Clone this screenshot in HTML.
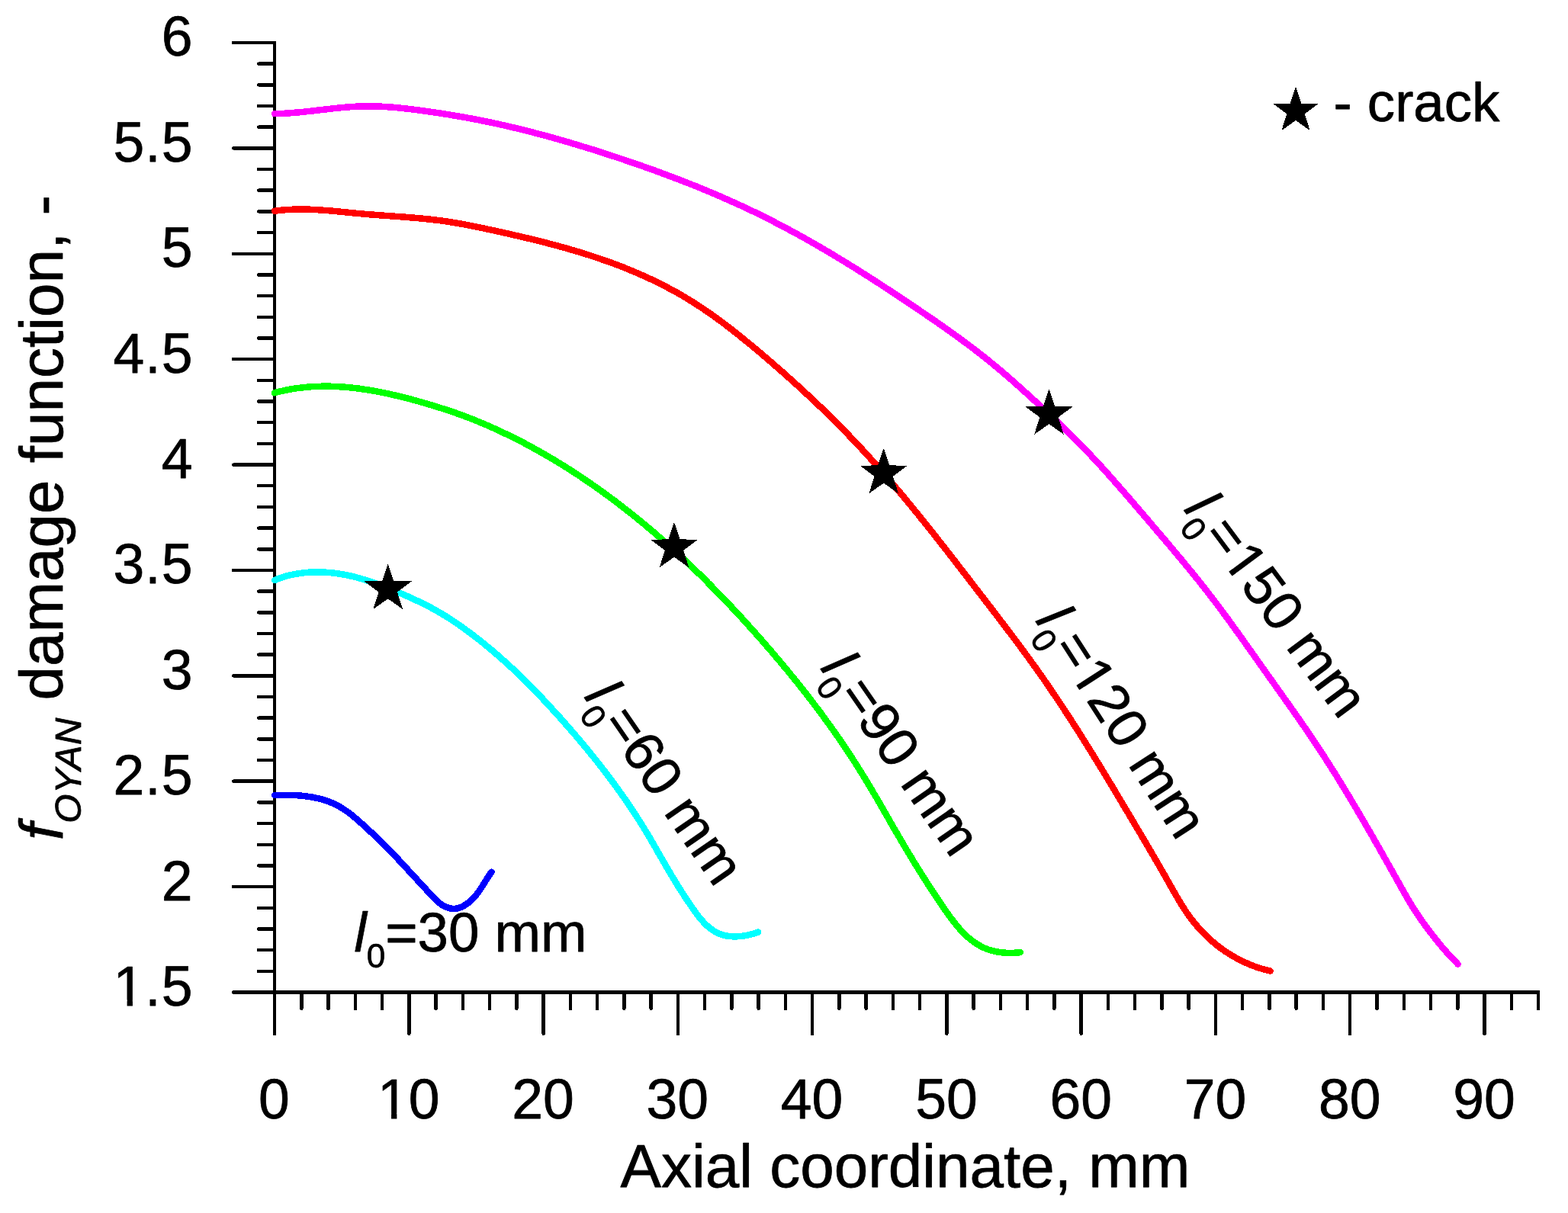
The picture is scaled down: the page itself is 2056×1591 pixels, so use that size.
<!DOCTYPE html>
<html lang="en"><head><meta charset="utf-8"><title>f_OYAN damage function vs axial coordinate</title>
<style>
html,body{margin:0;padding:0;background:#fff;overflow:hidden}
svg{display:block}
text{font-family:"Liberation Sans",Arial,Helvetica,sans-serif;fill:#000;stroke:#000;stroke-width:0.75px;stroke-linejoin:round}
.t{font-size:73.3px}
.l{font-size:72.6px}
.ax{font-size:80px}
.i{font-style:italic}
</style></head><body>
<svg xmlns="http://www.w3.org/2000/svg" width="2056" height="1591" viewBox="0 0 2056 1591">
<rect width="2056" height="1591" fill="#fff"/>
<g stroke="#000" stroke-width="4.5" stroke-linecap="round" fill="none" shape-rendering="crispEdges">
<path d="M360 56V1356"/>
<path d="M306 1301.5H2017V1323"/>
<path d="M306 56.0H360M339 83.7H360M339 111.4H360M339 139.0H360M339 166.7H360M306 194.4H360M339 222.1H360M339 249.7H360M339 277.4H360M339 305.1H360M306 332.8H360M339 360.5H360M339 388.1H360M339 415.8H360M339 443.5H360M306 471.2H360M339 498.8H360M339 526.5H360M339 554.2H360M339 581.9H360M306 609.6H360M339 637.2H360M339 664.9H360M339 692.6H360M339 720.3H360M306 747.9H360M339 775.6H360M339 803.3H360M339 831.0H360M339 858.7H360M306 886.3H360M339 914.0H360M339 941.7H360M339 969.4H360M339 997.1H360M306 1024.7H360M339 1052.4H360M339 1080.1H360M339 1107.8H360M339 1135.4H360M306 1163.1H360M339 1190.8H360M339 1218.5H360M339 1246.2H360M339 1273.8H360"/>
<path d="M395.3 1301.5V1323M430.5 1301.5V1323M465.8 1301.5V1323M501.0 1301.5V1323M536.3 1301.5V1356M571.5 1301.5V1323M606.8 1301.5V1323M642.0 1301.5V1323M677.3 1301.5V1323M712.6 1301.5V1356M747.8 1301.5V1323M783.1 1301.5V1323M818.3 1301.5V1323M853.6 1301.5V1323M888.8 1301.5V1356M924.1 1301.5V1323M959.4 1301.5V1323M994.6 1301.5V1323M1029.9 1301.5V1323M1065.1 1301.5V1356M1100.4 1301.5V1323M1135.6 1301.5V1323M1170.9 1301.5V1323M1206.1 1301.5V1323M1241.4 1301.5V1356M1276.7 1301.5V1323M1311.9 1301.5V1323M1347.2 1301.5V1323M1382.4 1301.5V1323M1417.7 1301.5V1356M1452.9 1301.5V1323M1488.2 1301.5V1323M1523.4 1301.5V1323M1558.7 1301.5V1323M1594.0 1301.5V1356M1629.2 1301.5V1323M1664.5 1301.5V1323M1699.7 1301.5V1323M1735.0 1301.5V1323M1770.2 1301.5V1356M1805.5 1301.5V1323M1840.8 1301.5V1323M1876.0 1301.5V1323M1911.3 1301.5V1323M1946.5 1301.5V1356M1981.8 1301.5V1323"/>
</g>
<g fill="none" stroke-width="8.5" stroke-linecap="round" stroke-linejoin="round" shape-rendering="crispEdges">
<path stroke="#0000ff" d="M360.1 1043.1L365.9 1042.9L371.7 1042.8L377.7 1042.8L383.6 1042.9L389.6 1043.2L395.6 1043.7L401.6 1044.4L407.5 1045.2L413.4 1046.4L419.2 1047.7L424.9 1049.3L430.5 1051.2L436.0 1053.4L441.3 1055.9L446.5 1058.8L451.5 1061.9L456.4 1065.3L461.1 1068.9L465.7 1072.7L470.3 1076.6L474.7 1080.6L479.1 1084.7L483.5 1088.7L487.9 1092.8L492.2 1096.8L496.4 1100.9L500.7 1105.0L504.9 1109.1L509.1 1113.4L513.2 1117.7L517.3 1122.0L521.4 1126.3L525.5 1130.7L529.6 1135.1L533.6 1139.5L537.6 1143.8L541.6 1148.2L545.6 1152.5L549.6 1156.8L553.6 1161.1L557.6 1165.5L561.7 1169.9L565.7 1174.4L569.9 1178.8L574.4 1183.0L579.2 1186.7L584.4 1189.6L589.8 1191.4L595.4 1192.0L600.9 1191.2L606.4 1189.1L611.6 1186.0L616.5 1182.2L620.8 1177.9L624.8 1173.3L628.4 1168.5L631.7 1163.5L634.8 1158.6L637.9 1153.6L641.1 1148.6L644.5 1143.7"/>
<path stroke="#00ffff" d="M360.0 761.0L365.5 758.8L371.2 756.9L376.9 755.2L382.8 753.8L388.6 752.7L394.5 751.8L400.5 751.1L406.5 750.6L412.5 750.4L418.5 750.4L424.5 750.6L430.5 750.9L436.5 751.5L442.4 752.3L448.3 753.2L454.2 754.3L460.0 755.5L465.8 756.9L471.6 758.5L477.3 760.2L483.1 761.9L488.7 763.8L494.4 765.8L500.0 767.9L505.6 770.1L511.2 772.3L516.7 774.6L522.3 776.9L527.8 779.3L533.3 781.7L538.7 784.2L544.2 786.7L549.6 789.2L554.9 791.8L560.3 794.5L565.6 797.3L570.8 800.2L576.0 803.1L581.2 806.2L586.3 809.3L591.3 812.5L596.3 815.9L601.3 819.2L606.2 822.7L611.0 826.2L615.9 829.8L620.7 833.4L625.4 837.0L630.1 840.7L634.8 844.5L639.4 848.3L644.0 852.1L648.6 856.0L653.1 859.9L657.6 863.9L662.0 867.8L666.5 871.9L670.9 875.9L675.2 880.0L679.6 884.2L683.9 888.3L688.1 892.5L692.4 896.7L696.6 901.0L700.8 905.3L705.0 909.6L709.1 913.9L713.2 918.3L717.3 922.7L721.4 927.1L725.4 931.5L729.5 935.9L733.5 940.4L737.5 944.9L741.4 949.4L745.4 953.9L749.3 958.4L753.2 962.9L757.1 967.5L761.0 972.1L764.8 976.7L768.7 981.3L772.5 985.9L776.2 990.6L780.0 995.2L783.7 999.9L787.4 1004.6L791.1 1009.4L794.7 1014.1L798.3 1018.9L801.9 1023.7L805.5 1028.5L809.0 1033.3L812.5 1038.2L815.9 1043.1L819.4 1048.0L822.8 1052.9L826.1 1057.9L829.4 1062.8L832.7 1067.8L836.0 1072.9L839.2 1077.9L842.4 1083.0L845.5 1088.1L848.6 1093.2L851.7 1098.4L854.7 1103.6L857.7 1108.8L860.7 1114.0L863.6 1119.2L866.6 1124.3L869.6 1129.5L872.6 1134.7L875.6 1139.8L878.7 1145.0L881.7 1150.1L884.8 1155.2L887.9 1160.3L891.1 1165.4L894.3 1170.4L897.6 1175.5L900.9 1180.5L904.3 1185.5L907.7 1190.5L911.2 1195.5L914.8 1200.4L918.6 1205.2L922.6 1209.7L926.8 1213.9L931.3 1217.7L936.0 1221.0L941.1 1223.8L946.5 1225.9L952.1 1227.3L958.0 1228.2L964.1 1228.4L970.2 1228.1L976.3 1227.3L982.4 1226.1L988.4 1224.5L994.1 1222.6"/>
<path stroke="#00ff00" d="M359.8 515.3L365.7 513.8L371.6 512.4L377.5 511.2L383.4 510.1L389.3 509.2L395.3 508.5L401.2 507.8L407.1 507.3L413.1 507.0L419.0 506.8L425.0 506.7L430.9 506.7L436.8 506.8L442.8 507.1L448.7 507.5L454.7 507.9L460.6 508.5L466.5 509.2L472.5 509.9L478.4 510.8L484.3 511.7L490.2 512.7L496.1 513.8L502.0 515.0L507.9 516.2L513.7 517.5L519.6 518.9L525.4 520.3L531.2 521.7L537.0 523.2L542.8 524.8L548.6 526.4L554.3 528.0L560.0 529.7L565.7 531.3L571.4 533.1L577.1 534.9L582.7 536.7L588.4 538.5L594.0 540.4L599.6 542.4L605.2 544.4L610.8 546.5L616.3 548.6L621.9 550.8L627.4 553.1L632.9 555.4L638.5 557.7L643.9 560.1L649.4 562.6L654.9 565.1L660.3 567.7L665.7 570.3L671.1 572.9L676.5 575.6L681.8 578.3L687.2 581.1L692.5 583.9L697.7 586.8L703.0 589.7L708.2 592.6L713.4 595.6L718.6 598.6L723.8 601.6L728.9 604.7L734.0 607.8L739.1 610.9L744.2 614.1L749.2 617.3L754.2 620.6L759.2 623.8L764.2 627.2L769.1 630.5L774.0 633.9L778.9 637.3L783.8 640.7L788.7 644.2L793.5 647.7L798.3 651.2L803.1 654.8L807.9 658.3L812.6 662.0L817.3 665.6L822.0 669.3L826.7 673.0L831.4 676.7L836.0 680.4L840.6 684.2L845.2 688.0L849.8 691.9L854.4 695.7L858.9 699.6L863.4 703.5L867.9 707.4L872.4 711.4L876.8 715.4L881.3 719.4L885.7 723.4L890.1 727.4L894.5 731.5L898.8 735.6L903.2 739.7L907.5 743.8L911.8 748.0L916.1 752.1L920.4 756.3L924.6 760.5L928.8 764.8L933.0 769.0L937.2 773.3L941.4 777.6L945.6 781.9L949.7 786.2L953.9 790.5L958.0 794.9L962.1 799.2L966.1 803.6L970.2 808.0L974.3 812.4L978.3 816.8L982.3 821.3L986.3 825.7L990.3 830.2L994.2 834.7L998.2 839.1L1002.1 843.7L1006.1 848.2L1010.0 852.7L1013.9 857.2L1017.7 861.8L1021.6 866.3L1025.4 870.9L1029.2 875.5L1033.1 880.1L1036.8 884.7L1040.6 889.4L1044.4 894.0L1048.1 898.7L1051.8 903.3L1055.5 908.0L1059.2 912.7L1062.8 917.5L1066.4 922.2L1070.0 927.0L1073.6 931.7L1077.2 936.5L1080.7 941.3L1084.2 946.2L1087.7 951.0L1091.2 955.9L1094.7 960.8L1098.1 965.7L1101.5 970.6L1104.9 975.5L1108.2 980.5L1111.5 985.4L1114.8 990.4L1118.1 995.5L1121.3 1000.5L1124.5 1005.6L1127.7 1010.7L1130.9 1015.8L1134.0 1020.9L1137.1 1026.0L1140.2 1031.2L1143.3 1036.4L1146.3 1041.5L1149.4 1046.7L1152.4 1051.9L1155.4 1057.1L1158.4 1062.3L1161.4 1067.5L1164.4 1072.7L1167.3 1077.9L1170.3 1083.1L1173.3 1088.3L1176.3 1093.4L1179.3 1098.5L1182.3 1103.7L1185.3 1108.8L1188.3 1113.8L1191.3 1118.9L1194.4 1123.9L1197.4 1129.0L1200.5 1134.0L1203.6 1139.0L1206.7 1144.0L1209.9 1149.0L1213.1 1154.0L1216.3 1159.0L1219.5 1164.0L1222.8 1169.0L1226.1 1174.0L1229.4 1179.0L1232.8 1184.0L1236.2 1189.0L1239.7 1194.1L1243.2 1199.1L1246.8 1204.0L1250.5 1208.9L1254.3 1213.6L1258.2 1218.2L1262.2 1222.6L1266.4 1226.8L1270.8 1230.7L1275.4 1234.3L1280.1 1237.6L1285.1 1240.6L1290.2 1243.2L1295.7 1245.4L1301.3 1247.1L1307.2 1248.4L1313.3 1249.3L1319.5 1249.8L1325.6 1249.9L1331.7 1249.7L1337.7 1249.2"/>
<path stroke="#ff0000" d="M360.0 276.8L366.0 276.0L372.0 275.4L378.0 275.0L384.0 274.7L390.0 274.6L395.9 274.5L401.9 274.6L407.9 274.8L413.9 275.1L419.8 275.4L425.8 275.9L431.8 276.3L437.7 276.9L443.7 277.4L449.6 278.0L455.6 278.6L461.6 279.2L467.5 279.8L473.5 280.3L479.5 280.9L485.4 281.4L491.4 281.8L497.4 282.3L503.4 282.7L509.3 283.1L515.3 283.6L521.3 284.0L527.3 284.4L533.3 284.9L539.2 285.4L545.2 285.9L551.2 286.4L557.1 287.0L563.1 287.6L569.0 288.3L574.9 289.0L580.9 289.8L586.8 290.7L592.7 291.6L598.6 292.6L604.5 293.6L610.4 294.7L616.3 295.8L622.1 297.0L628.0 298.2L633.9 299.4L639.7 300.7L645.6 301.9L651.4 303.2L657.3 304.5L663.2 305.8L669.0 307.1L674.8 308.5L680.7 309.8L686.5 311.2L692.4 312.6L698.2 314.0L704.0 315.4L709.8 316.9L715.6 318.4L721.4 319.9L727.2 321.4L733.0 323.0L738.8 324.6L744.5 326.2L750.3 327.9L756.0 329.6L761.8 331.3L767.5 333.1L773.2 334.9L778.9 336.8L784.6 338.7L790.2 340.6L795.9 342.6L801.5 344.6L807.2 346.7L812.8 348.8L818.4 351.0L823.9 353.3L829.5 355.6L835.0 357.9L840.5 360.3L846.0 362.8L851.4 365.3L856.9 367.8L862.3 370.5L867.6 373.1L873.0 375.9L878.3 378.7L883.5 381.5L888.8 384.4L894.0 387.4L899.1 390.5L904.2 393.6L909.3 396.7L914.4 400.0L919.4 403.3L924.3 406.6L929.3 410.0L934.1 413.4L939.0 416.9L943.9 420.5L948.7 424.0L953.4 427.7L958.2 431.3L962.9 435.0L967.6 438.7L972.3 442.5L977.0 446.3L981.6 450.1L986.3 453.9L990.9 457.7L995.5 461.6L1000.1 465.5L1004.6 469.4L1009.2 473.3L1013.7 477.2L1018.2 481.2L1022.8 485.1L1027.3 489.1L1031.8 493.1L1036.2 497.1L1040.7 501.1L1045.1 505.1L1049.5 509.2L1054.0 513.2L1058.3 517.3L1062.7 521.4L1067.1 525.5L1071.4 529.6L1075.8 533.8L1080.1 537.9L1084.4 542.1L1088.6 546.3L1092.9 550.5L1097.1 554.7L1101.3 559.0L1105.5 563.3L1109.7 567.5L1113.8 571.8L1118.0 576.2L1122.1 580.5L1126.2 584.9L1130.3 589.3L1134.3 593.7L1138.3 598.1L1142.4 602.5L1146.4 607.0L1150.3 611.4L1154.3 615.9L1158.2 620.4L1162.2 625.0L1166.1 629.5L1170.0 634.0L1173.8 638.6L1177.7 643.2L1181.6 647.8L1185.4 652.4L1189.2 657.0L1193.0 661.6L1196.8 666.2L1200.6 670.9L1204.4 675.5L1208.1 680.2L1211.9 684.9L1215.6 689.5L1219.4 694.2L1223.1 698.9L1226.8 703.6L1230.5 708.3L1234.2 713.1L1237.9 717.8L1241.6 722.5L1245.3 727.2L1249.0 732.0L1252.7 736.7L1256.3 741.5L1260.0 746.2L1263.7 751.0L1267.3 755.7L1271.0 760.5L1274.6 765.2L1278.3 770.0L1281.9 774.7L1285.6 779.5L1289.3 784.2L1292.9 789.0L1296.6 793.7L1300.2 798.5L1303.9 803.2L1307.5 808.0L1311.1 812.8L1314.8 817.5L1318.4 822.3L1322.0 827.1L1325.6 831.8L1329.2 836.6L1332.8 841.4L1336.4 846.2L1339.9 851.0L1343.5 855.8L1347.0 860.7L1350.5 865.5L1354.0 870.4L1357.5 875.2L1361.0 880.1L1364.4 885.0L1367.9 889.9L1371.3 894.8L1374.7 899.8L1378.0 904.7L1381.4 909.7L1384.7 914.6L1388.1 919.6L1391.4 924.6L1394.7 929.6L1398.0 934.6L1401.2 939.6L1404.5 944.6L1407.7 949.7L1411.0 954.7L1414.2 959.8L1417.4 964.8L1420.6 969.9L1423.8 975.0L1426.9 980.1L1430.1 985.2L1433.3 990.3L1436.4 995.4L1439.5 1000.5L1442.7 1005.6L1445.8 1010.7L1448.9 1015.8L1452.0 1021.0L1455.1 1026.1L1458.2 1031.2L1461.3 1036.4L1464.3 1041.5L1467.4 1046.6L1470.5 1051.8L1473.5 1056.9L1476.6 1062.1L1479.7 1067.2L1482.7 1072.4L1485.8 1077.5L1488.8 1082.6L1491.9 1087.8L1494.9 1092.9L1498.0 1098.1L1501.0 1103.2L1504.1 1108.4L1507.1 1113.5L1510.1 1118.7L1513.1 1123.9L1516.1 1129.1L1519.1 1134.2L1522.1 1139.4L1525.1 1144.6L1528.1 1149.8L1531.0 1155.0L1534.0 1160.3L1536.9 1165.5L1539.9 1170.7L1542.9 1175.9L1545.9 1181.0L1549.0 1186.1L1552.2 1191.2L1555.5 1196.2L1558.9 1201.1L1562.5 1205.9L1566.2 1210.6L1570.1 1215.2L1574.1 1219.7L1578.2 1224.0L1582.5 1228.2L1586.9 1232.3L1591.4 1236.3L1596.0 1240.1L1600.8 1243.7L1605.7 1247.2L1610.7 1250.5L1615.8 1253.6L1621.0 1256.6L1626.2 1259.4L1631.6 1262.0L1637.1 1264.4L1642.7 1266.7L1648.3 1268.7L1654.0 1270.5L1659.8 1272.2L1665.6 1273.6"/>
<path stroke="#ff00ff" d="M360.0 149.2L366.0 149.1L371.9 148.8L377.9 148.5L383.9 148.0L389.8 147.5L395.8 147.0L401.8 146.3L407.7 145.7L413.7 145.0L419.6 144.3L425.6 143.6L431.6 142.9L437.5 142.2L443.5 141.6L449.5 141.0L455.4 140.5L461.4 140.1L467.4 139.7L473.3 139.5L479.3 139.3L485.3 139.3L491.2 139.4L497.2 139.6L503.2 139.9L509.1 140.3L515.1 140.7L521.1 141.3L527.0 141.9L533.0 142.5L538.9 143.2L544.9 144.0L550.8 144.8L556.8 145.6L562.7 146.4L568.6 147.3L574.6 148.2L580.5 149.1L586.4 150.0L592.3 151.0L598.2 152.0L604.1 153.0L610.0 154.1L615.9 155.1L621.8 156.3L627.7 157.4L633.5 158.6L639.4 159.8L645.3 161.0L651.1 162.2L656.9 163.5L662.8 164.9L668.6 166.2L674.4 167.6L680.2 169.0L686.0 170.4L691.8 171.9L697.6 173.3L703.4 174.9L709.2 176.4L715.0 177.9L720.7 179.5L726.5 181.1L732.2 182.8L738.0 184.4L743.7 186.1L749.5 187.8L755.2 189.5L760.9 191.2L766.6 193.0L772.4 194.7L778.1 196.5L783.8 198.3L789.5 200.2L795.2 202.0L800.9 203.9L806.6 205.7L812.3 207.6L818.0 209.5L823.6 211.5L829.3 213.4L835.0 215.3L840.6 217.3L846.3 219.3L851.9 221.3L857.6 223.3L863.2 225.4L868.9 227.5L874.5 229.6L880.1 231.7L885.7 233.8L891.3 235.9L896.9 238.1L902.5 240.3L908.0 242.5L913.6 244.7L919.2 247.0L924.7 249.3L930.2 251.6L935.8 253.9L941.3 256.3L946.8 258.7L952.2 261.1L957.7 263.5L963.2 266.0L968.6 268.4L974.1 270.9L979.5 273.5L984.9 276.0L990.3 278.6L995.6 281.2L1001.0 283.9L1006.4 286.6L1011.7 289.3L1017.0 292.0L1022.3 294.8L1027.6 297.5L1032.9 300.4L1038.2 303.2L1043.4 306.0L1048.6 308.9L1053.9 311.8L1059.1 314.8L1064.3 317.7L1069.5 320.7L1074.6 323.7L1079.8 326.7L1085.0 329.7L1090.1 332.8L1095.2 335.9L1100.4 339.0L1105.5 342.1L1110.6 345.2L1115.7 348.4L1120.8 351.5L1125.8 354.7L1130.9 357.9L1136.0 361.1L1141.0 364.3L1146.1 367.6L1151.1 370.8L1156.1 374.1L1161.1 377.4L1166.1 380.6L1171.2 383.9L1176.2 387.3L1181.1 390.6L1186.1 393.9L1191.1 397.2L1196.1 400.6L1201.1 403.9L1206.0 407.3L1211.0 410.7L1215.9 414.0L1220.9 417.4L1225.8 420.8L1230.7 424.2L1235.7 427.7L1240.6 431.1L1245.4 434.6L1250.3 438.1L1255.2 441.6L1260.0 445.1L1264.8 448.7L1269.6 452.2L1274.4 455.8L1279.1 459.5L1283.9 463.1L1288.6 466.8L1293.3 470.5L1297.9 474.3L1302.6 478.1L1307.2 481.9L1311.7 485.7L1316.3 489.6L1320.8 493.5L1325.3 497.4L1329.8 501.4L1334.3 505.4L1338.8 509.4L1343.2 513.4L1347.7 517.4L1352.1 521.4L1356.5 525.5L1360.9 529.5L1365.3 533.6L1369.7 537.7L1374.1 541.7L1378.5 545.8L1382.8 549.9L1387.2 554.1L1391.5 558.2L1395.8 562.3L1400.1 566.5L1404.4 570.7L1408.7 574.9L1412.9 579.1L1417.1 583.4L1421.3 587.7L1425.4 592.0L1429.5 596.4L1433.6 600.7L1437.7 605.1L1441.7 609.5L1445.8 613.9L1449.8 618.4L1453.8 622.8L1457.8 627.3L1461.7 631.8L1465.7 636.3L1469.6 640.8L1473.5 645.3L1477.5 649.9L1481.4 654.4L1485.3 658.9L1489.2 663.5L1493.1 668.0L1497.0 672.6L1500.9 677.1L1504.8 681.7L1508.7 686.3L1512.5 690.8L1516.4 695.4L1520.3 699.9L1524.2 704.5L1528.1 709.0L1532.0 713.6L1535.8 718.2L1539.7 722.8L1543.5 727.4L1547.4 731.9L1551.2 736.6L1555.0 741.2L1558.8 745.8L1562.6 750.4L1566.4 755.1L1570.1 759.7L1573.9 764.4L1577.6 769.1L1581.3 773.8L1584.9 778.5L1588.6 783.3L1592.2 788.0L1595.8 792.8L1599.4 797.6L1603.0 802.4L1606.6 807.2L1610.1 812.0L1613.6 816.9L1617.1 821.7L1620.6 826.6L1624.1 831.4L1627.6 836.3L1631.1 841.2L1634.5 846.1L1638.0 851.0L1641.5 855.8L1644.9 860.7L1648.4 865.6L1651.8 870.5L1655.3 875.4L1658.8 880.3L1662.2 885.2L1665.7 890.1L1669.2 894.9L1672.6 899.8L1676.1 904.7L1679.6 909.6L1683.0 914.5L1686.5 919.4L1690.0 924.2L1693.4 929.1L1696.8 934.0L1700.3 938.9L1703.7 943.9L1707.1 948.8L1710.5 953.7L1713.9 958.6L1717.2 963.6L1720.6 968.6L1723.9 973.5L1727.2 978.5L1730.5 983.5L1733.8 988.5L1737.1 993.5L1740.3 998.6L1743.5 1003.6L1746.7 1008.7L1749.9 1013.7L1753.1 1018.8L1756.2 1023.9L1759.3 1029.0L1762.5 1034.1L1765.6 1039.3L1768.7 1044.4L1771.7 1049.5L1774.8 1054.7L1777.9 1059.8L1780.9 1065.0L1783.9 1070.1L1787.0 1075.3L1790.0 1080.5L1793.0 1085.7L1796.0 1090.9L1799.0 1096.0L1801.9 1101.2L1804.9 1106.4L1807.9 1111.6L1810.8 1116.8L1813.8 1122.1L1816.7 1127.3L1819.7 1132.5L1822.6 1137.7L1825.6 1142.9L1828.5 1148.1L1831.4 1153.3L1834.4 1158.5L1837.3 1163.8L1840.2 1169.0L1843.2 1174.2L1846.2 1179.4L1849.2 1184.5L1852.3 1189.6L1855.5 1194.6L1858.8 1199.6L1862.2 1204.6L1865.6 1209.5L1869.1 1214.3L1872.7 1219.1L1876.3 1223.9L1880.0 1228.6L1883.7 1233.3L1887.5 1238.0L1891.4 1242.6L1895.3 1247.1L1899.2 1251.6L1903.3 1256.0L1907.4 1260.3L1911.6 1264.6"/>
</g>
<g fill="#000" shape-rendering="crispEdges">
<polygon points="508.7,739.7 516.3,762.1 539.9,762.4 520.9,776.5 528.0,799.0 508.7,785.4 489.4,799.0 496.5,776.5 477.5,762.4 501.1,762.1"/>
<polygon points="884.0,685.0 891.6,707.4 915.2,707.7 896.2,721.8 903.3,744.3 884.0,730.7 864.7,744.3 871.8,721.8 852.8,707.7 876.4,707.4"/>
<polygon points="1158.7,588.0 1166.3,610.4 1189.9,610.7 1170.9,624.8 1178.0,647.3 1158.7,633.7 1139.4,647.3 1146.5,624.8 1127.5,610.7 1151.1,610.4"/>
<polygon points="1375.5,510.5 1383.1,532.9 1406.7,533.2 1387.7,547.3 1394.8,569.8 1375.5,556.2 1356.2,569.8 1363.3,547.3 1344.3,533.2 1367.9,532.9"/>
<polygon points="1699.0,113.9 1706.3,135.5 1729.1,135.8 1710.8,149.4 1717.6,171.2 1699.0,158.0 1680.4,171.2 1687.2,149.4 1668.9,135.8 1691.7,135.5"/>
</g>
<g class="t" text-anchor="end" letter-spacing="1">
<text x="253.5" y="73.4">6</text>
<text x="253.5" y="211.8">5.5</text>
<text x="253.5" y="350.2">5</text>
<text x="253.5" y="488.6">4.5</text>
<text x="253.5" y="627.0">4</text>
<text x="253.5" y="765.3">3.5</text>
<text x="253.5" y="903.7">3</text>
<text x="253.5" y="1042.1">2.5</text>
<text x="253.5" y="1180.5">2</text>
<text x="253.5" y="1318.9">1.5</text>
</g>
<g class="t" text-anchor="middle">
<text x="359.5" y="1467.3">0</text>
<text x="535.8" y="1467.3">10</text>
<text x="712.1" y="1467.3">20</text>
<text x="888.3" y="1467.3">30</text>
<text x="1064.6" y="1467.3">40</text>
<text x="1240.9" y="1467.3">50</text>
<text x="1417.2" y="1467.3">60</text>
<text x="1593.5" y="1467.3">70</text>
<text x="1769.7" y="1467.3">80</text>
<text x="1946.0" y="1467.3">90</text>
</g>
<text class="ax" x="1187" y="1556.8" text-anchor="middle">Axial coordinate, mm</text>
<text class="ax" transform="translate(82.3 679) rotate(-90)" text-anchor="middle"><tspan class="i">f</tspan><tspan class="i" font-size="49" dy="23.7" letter-spacing="0.7" stroke-width="0.8">OYAN</tspan><tspan dy="-23.7"> damage function, -</tspan></text>
<text class="l" x="1748.5" y="159.2">- crack</text>
<text class="l" transform="translate(464.6 1247.8) rotate(0.0)"><tspan class="i">l</tspan><tspan font-size="44" dy="21.5">0</tspan><tspan dy="-21.5">=30 mm</tspan></text>
<text class="l" transform="translate(765.2 914.0) rotate(55.5)"><tspan class="i">l</tspan><tspan font-size="44" dy="19.3">0</tspan><tspan dy="-19.3">=60 mm</tspan></text>
<text class="l" transform="translate(1074.9 876.6) rotate(55.3)"><tspan class="i">l</tspan><tspan font-size="44" dy="19.3">0</tspan><tspan dy="-19.3">=90 mm</tspan></text>
<text class="l" transform="translate(1357.0 814.0) rotate(57.2)"><tspan class="i">l</tspan><tspan font-size="44" dy="19.3">0</tspan><tspan dy="-19.3">=120 mm</tspan></text>
<text class="l" transform="translate(1551.5 668.5) rotate(53.4)"><tspan class="i">l</tspan><tspan font-size="44" dy="19.3">0</tspan><tspan dy="-19.3">=150 mm</tspan></text>
<g fill="#fff"><rect x="152.40" y="1311.45" width="14.20" height="9.23"/><rect x="173.93" y="1311.45" width="13.63" height="9.23"/></g>
<g fill="#fff"><rect x="498.84" y="1459.85" width="14.20" height="9.23"/><rect x="520.37" y="1459.85" width="13.63" height="9.23"/></g>
<g fill="#fff" transform="translate(1357.0 814.0) rotate(57.2)"><rect x="86.77" y="-7.40" width="14.08" height="9.17"/><rect x="108.11" y="-7.40" width="13.51" height="9.17"/></g>
<g fill="#fff" transform="translate(1551.5 668.5) rotate(53.4)"><rect x="86.77" y="-7.40" width="14.08" height="9.17"/><rect x="108.11" y="-7.40" width="13.51" height="9.17"/></g>
</svg>
</body></html>
